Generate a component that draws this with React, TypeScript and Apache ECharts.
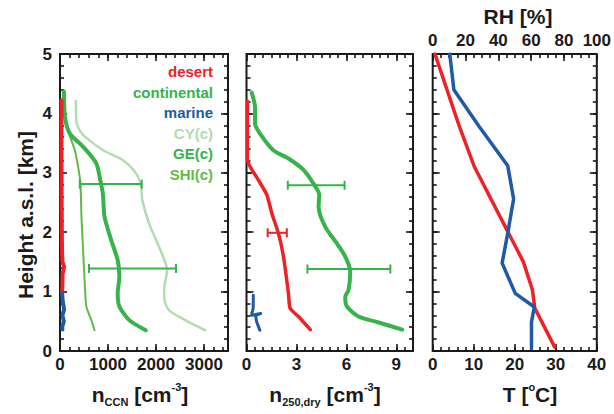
import React, { useEffect, useRef } from "react";
import * as echarts from "echarts";

// ---------- data (value, height km) ----------
const ccnTickLabels = [0, 1000, 2000, 3000];
const dryTickLabels = [0, 3, 6, 9];
const tempTickLabels = [0, 10, 20, 30, 40];
const rhTickLabels = [0, 20, 40, 60, 80, 100];
const heightTickLabels = [0, 1, 2, 3, 4, 5];

const legendNames = ["desert", "continental", "marine", "CY(c)", "GE(c)", "SHI(c)"];

// panel 1: n_CCN [cm-3]
const ccnDesert = [[30, 4.22], [30, 3.5], [35, 2.5], [40, 1.8], [50, 1.5], [85, 1.42], [55, 1.3], [45, 0.98]];
const ccnMarine = [[45, 0.98], [55, 0.85], [85, 0.7], [50, 0.6], [80, 0.5], [45, 0.4], [50, 0.36]];
const ccnCY = [[330, 4.21], [345, 3.85], [420, 3.7], [530, 3.6], [900, 3.38], [1300, 3.22], [1550, 3.03], [1680, 2.82], [1716, 2.54], [1854, 2.15], [2060, 1.76], [2231, 1.36], [2170, 1.05], [2170, 0.9], [2266, 0.69], [2610, 0.52], [3021, 0.35]];
const ccnGE = [[82, 4.37], [103, 3.94], [206, 3.66], [480, 3.44], [756, 3.16], [838, 2.88], [893, 2.65], [928, 2.26], [1065, 1.87], [1202, 1.53], [1237, 1.25], [1202, 0.97], [1237, 0.75], [1443, 0.52], [1786, 0.35]];
const ccnSHI = [[69, 4.34], [100, 4.0], [138, 3.78], [309, 3.38], [378, 3.1], [426, 2.82], [447, 2.26], [481, 1.7], [515, 1.14], [550, 0.75], [653, 0.52], [721, 0.35]];
// error bars: [height, low, high]
const ccnErrContinental = [[2.81, 412, 1703], [1.39, 604, 2416]];

// panel 2: n_250,dry [cm-3]
const dryContinental = [[0.31, 4.35], [0.51, 4.11], [0.51, 3.83], [0.81, 3.66], [1.61, 3.38], [2.52, 3.24], [3.42, 3.05], [4.02, 2.82], [4.37, 2.63], [4.33, 2.43], [4.73, 2.09], [5.43, 1.81], [5.93, 1.59], [6.23, 1.34], [6.13, 1.03], [5.93, 0.91], [6.03, 0.75], [6.73, 0.58], [7.94, 0.48], [9.35, 0.36]];
const dryDesert = [[0.05, 4.21], [0.05, 3.22], [0.71, 2.88], [1.22, 2.63], [1.52, 2.32], [1.92, 1.98], [2.22, 1.59], [2.52, 0.97], [2.62, 0.72], [3.12, 0.58], [3.83, 0.36]];
const dryMarine = [[0.41, 0.94], [0.4, 0.72], [0.3, 0.6], [0.85, 0.63], [0.55, 0.6], [0.6, 0.5], [0.8, 0.35]];
const dryErrContinental = [[2.79, 2.48, 5.89], [1.38, 3.66, 8.64]];
const dryErrDesert = [[1.99, 1.27, 2.42]];

// panel 3: T [°C] (bottom) and RH [%] (top)
const temperature = [[0.55, 5.0], [6.5, 3.78], [10.1, 3.11], [17.7, 2.09], [22.1, 1.5], [24.3, 1.03], [24.9, 0.72], [29.7, 0.07]];
const relHumidity = [[10.4, 5.0], [12.9, 4.4], [28.3, 3.78], [45.7, 3.12], [49.3, 2.56], [45.7, 1.98], [42.3, 1.48], [50.3, 0.97], [61.9, 0.74], [60.2, 0.49], [60.2, 0.04]];

// ---------- styling ----------
const FONT = "'Liberation Sans', Arial, sans-serif";
const INK = "#1a1a1a";
const RED = "#ec2227";
const GREEN = "#36b34a";
const BLUE = "#1f5aa6";
const LIGHT = "#b4dbb1";
const SHI = "#62bb46";
const legendColors = [RED, GREEN, BLUE, LIGHT, GREEN, SHI];

const grids = [
  { left: 60, top: 54, width: 168, height: 297 },
  { left: 246.5, top: 54, width: 166.5, height: 297 },
  { left: 432.7, top: 54, width: 166.3, height: 297 },
];

function makeAxis(
  gridIndex: number,
  position: string,
  min: number,
  max: number,
  interval: number,
  tickLen: number,
  labels?: number[]
) {
  return {
    type: "value",
    gridIndex,
    position,
    min,
    max,
    interval,
    axisLine: { show: false, onZero: false },
    axisTick: { show: true, inside: true, length: tickLen, lineStyle: { color: INK, width: 1.6 } },
    axisLabel: labels
      ? {
          show: true,
          margin: position === "left" ? 8 : 5,
          color: INK,
          fontSize: 17,
          fontWeight: "bold",
          fontFamily: FONT,
          formatter: (v: number) => (labels.some((l) => Math.abs(l - v) < 1e-6) ? String(v) : ""),
        }
      : { show: false },
    splitLine: { show: false },
  };
}

function errorBars(data: number[][], color: string, xi: number, yi: number) {
  return {
    type: "custom",
    xAxisIndex: xi,
    yAxisIndex: yi,
    data: data.map((d) => [d[1], d[2], d[0]]),
    encode: { x: [0, 1], y: 2 },
    z: 5,
    renderItem: (_p: any, api: any) => {
      const lo = api.value(0);
      const hi = api.value(1);
      const h = api.value(2);
      const a = api.coord([lo, h]);
      const b = api.coord([hi, h]);
      const style = { stroke: color, lineWidth: 2, fill: null };
      return {
        type: "group",
        children: [
          { type: "line", shape: { x1: a[0], y1: a[1], x2: b[0], y2: b[1] }, style },
          { type: "line", shape: { x1: a[0], y1: a[1] - 4.5, x2: a[0], y2: a[1] + 4.5 }, style },
          { type: "line", shape: { x1: b[0], y1: b[1] - 4.5, x2: b[0], y2: b[1] + 4.5 }, style },
        ],
      };
    },
  };
}

function line(data: number[][], color: string, width: number, xi: number, yi: number, smooth: number | boolean, z = 3) {
  return {
    type: "line",
    data,
    xAxisIndex: xi,
    yAxisIndex: yi,
    showSymbol: false,
    symbol: "none",
    smooth,
    z,
    lineStyle: { color, width, cap: "round", join: "round" },
  };
}

const titleRich = {
  n: { fontSize: 21, fontWeight: "bold", fontFamily: FONT, fill: INK, lineHeight: 26, verticalAlign: "middle" },
  s: { fontSize: 11, fontWeight: "bold", fontFamily: FONT, fill: INK, lineHeight: 8, verticalAlign: "bottom" },
  p: { fontSize: 11, fontWeight: "bold", fontFamily: FONT, fill: INK, lineHeight: 4, verticalAlign: "top" },
};

export default function App() {
  const ref = useRef<HTMLDivElement>(null);
  useEffect(() => {
    if (!ref.current) return;
    const chart = echarts.init(ref.current, null, { renderer: "svg" });

    const xAxis = [
      makeAxis(0, "bottom", 0, 3500, 1000, 7, ccnTickLabels),
      makeAxis(0, "bottom", 0, 3500, 200, 4),
      makeAxis(0, "top", 0, 3500, 1000, 7),
      makeAxis(0, "top", 0, 3500, 200, 4),
      makeAxis(1, "bottom", 0, 10, 3, 7, dryTickLabels),
      makeAxis(1, "bottom", 0, 10, 0.5, 4),
      makeAxis(1, "top", 0, 10, 3, 7),
      makeAxis(1, "top", 0, 10, 0.5, 4),
      makeAxis(2, "bottom", 0, 40, 10, 7, tempTickLabels),
      makeAxis(2, "bottom", 0, 40, 2, 4),
      makeAxis(2, "top", 0, 100, 20, 7, rhTickLabels),
      makeAxis(2, "top", 0, 100, 5, 4),
    ];
    const yAxis: any[] = [];
    for (let g = 0; g < 3; g++) {
      yAxis.push(makeAxis(g, "left", 0, 5, 1, 7, g === 0 ? heightTickLabels : undefined));
      yAxis.push(makeAxis(g, "left", 0, 5, 0.2, 4));
      yAxis.push(makeAxis(g, "right", 0, 5, 1, 7));
      yAxis.push(makeAxis(g, "right", 0, 5, 0.2, 4));
    }

    const series = [
      // panel 1
      line(ccnCY, LIGHT, 2.5, 0, 0, 0.25, 2),
      line(ccnSHI, SHI, 2, 0, 0, 0.25, 3),
      line(ccnGE, GREEN, 4, 0, 0, 0.25, 3),
      line(ccnDesert, RED, 4, 0, 0, false, 4),
      line(ccnMarine, BLUE, 4, 0, 0, false, 4),
      errorBars(ccnErrContinental, GREEN, 0, 0),
      // panel 2
      line(dryContinental, GREEN, 4, 4, 4, 0.25, 3),
      line(dryDesert, RED, 3.5, 4, 4, 0.2, 3),
      line(dryMarine, BLUE, 3, 4, 4, false, 3),
      errorBars(dryErrContinental, GREEN, 4, 4),
      errorBars(dryErrDesert, RED, 4, 4),
      // panel 3
      line(temperature, RED, 3.5, 8, 8, false, 3),
      line(relHumidity, BLUE, 3.5, 10, 8, false, 4),
    ];

    const graphic: any[] = [
      {
        type: "text",
        x: 25,
        y: 215,
        rotation: Math.PI / 2,
        style: { text: "Height a.s.l. [km]", font: `bold 21px ${FONT}`, fill: INK, align: "center", verticalAlign: "middle" },
      },
      {
        type: "text",
        x: 518,
        y: 16,
        style: { text: "RH [%]", font: `bold 21px ${FONT}`, fill: INK, align: "center", verticalAlign: "middle" },
      },
      {
        type: "text",
        x: 140,
        y: 394,
        style: { text: "{n|n}{s|CCN}{n| [cm}{p|-3}{n|]}", rich: titleRich, align: "center", verticalAlign: "middle" },
      },
      {
        type: "text",
        x: 325,
        y: 394,
        style: { text: "{n|n}{s|250,dry}{n| [cm}{p|-3}{n|]}", rich: titleRich, align: "center", verticalAlign: "middle" },
      },
      {
        type: "text",
        x: 530,
        y: 394,
        style: { text: "{n|T [}{p|o}{n|C]}", rich: titleRich, align: "center", verticalAlign: "middle" },
      },
    ];
    legendNames.forEach((name, i) => {
      graphic.push({
        type: "text",
        x: 213,
        y: 71.5 + 20.5 * i,
        z: 10,
        style: { text: name, font: `bold 15px ${FONT}`, fill: legendColors[i], align: "right", verticalAlign: "middle" },
      });
    });

    chart.setOption({
      animation: false,
      backgroundColor: "#ffffff",
      grid: grids.map((g) => ({ ...g, show: true, borderColor: INK, borderWidth: 2, backgroundColor: "transparent", containLabel: false })),
      xAxis,
      yAxis,
      series,
      graphic,
    });
    return () => chart.dispose();
  }, []);

  return (
    <div
      ref={ref}
      style={{ position: "absolute", left: 0, top: 0, width: 614, height: 414, background: "#fff" }}
    />
  );
}
